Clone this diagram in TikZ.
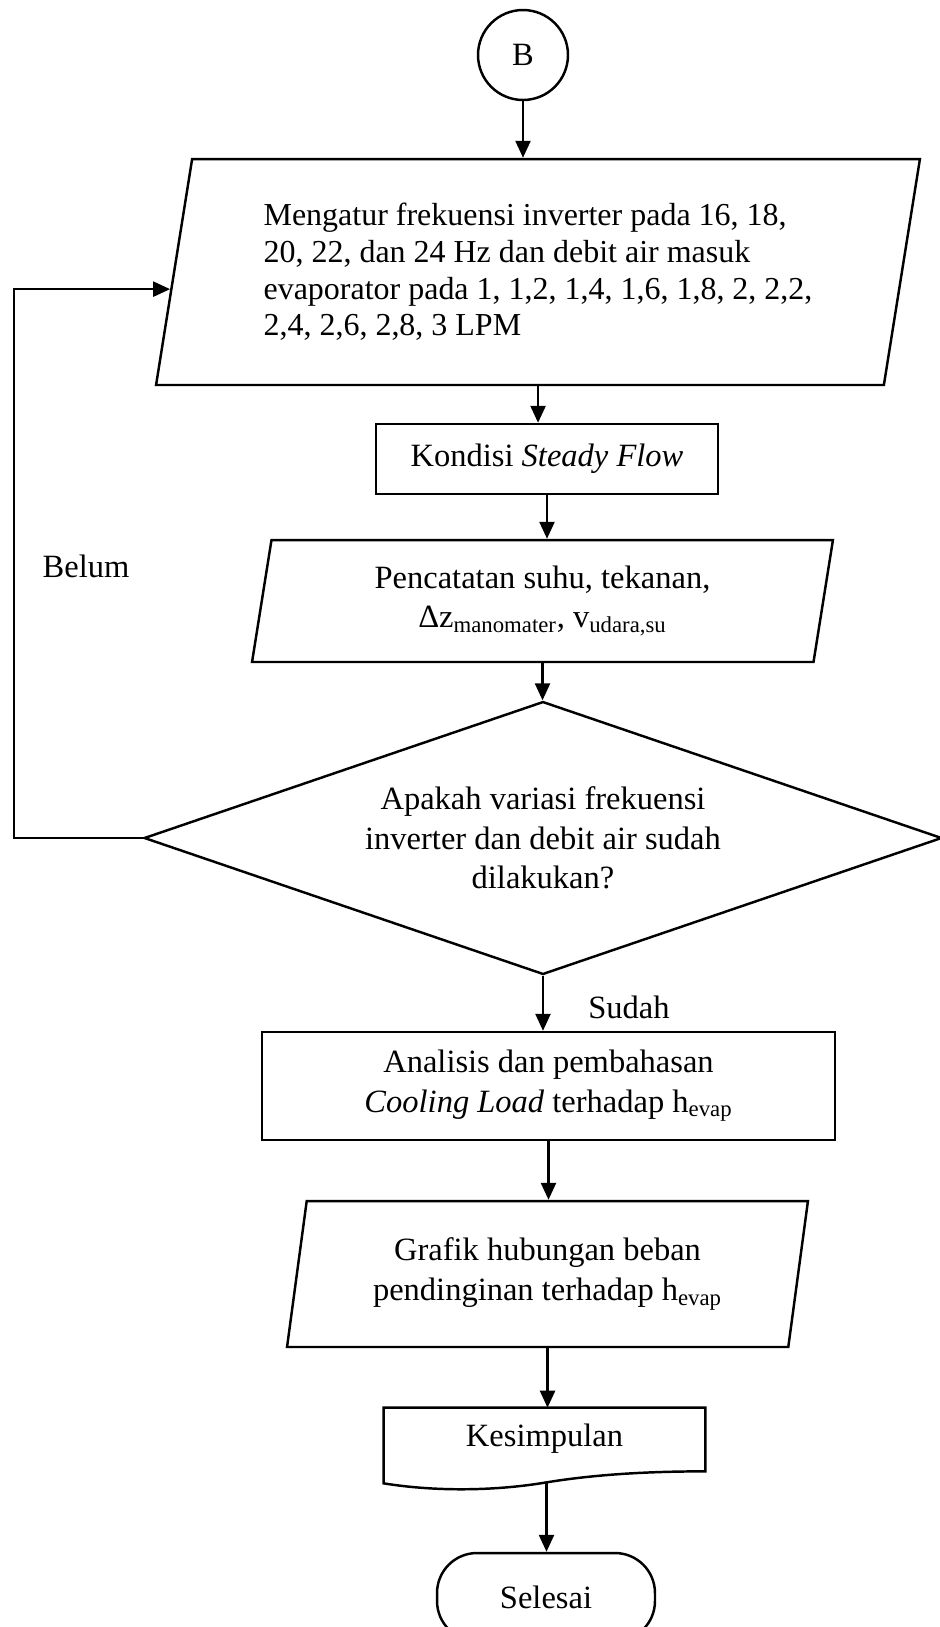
\documentclass[tikz,border=0pt]{standalone}
\usepackage{fontspec}
\setmainfont{Liberation Serif}
\usetikzlibrary{arrows.meta,calc,shapes.geometric}

\tikzset{
  line/.style={line width=1.4pt},
  arr/.style={line, -{Triangle[length=0.34cm,width=0.3cm]}},
  io/.style={line, draw, trapezium, trapezium left angle=76, trapezium right angle=104,
    trapezium stretches body, align=center, inner sep=2pt},
  proc/.style={line, draw, rectangle, align=center},
  cond/.style={line, draw, diamond, aspect=2.9, align=center, inner sep=1pt},
}

\begin{document}
\begin{tikzpicture}[x=0.02cm, y=-0.02cm, font=\fontsize{18.5}{22.5}\selectfont]
    \useasboundingbox (0,0) rectangle (940,1627);
    % Start connector
    \node [line, draw, circle, minimum size=1.8cm, inner sep=0pt] (B) at (523,55) {B};
    % Inputs and steps
    \node [io, minimum width=15.28cm, minimum height=4.52cm, align=left,
        font=\fontsize{18.2}{20.9}\selectfont] (P1) at (538,272)
        {Mengatur frekuensi inverter pada 16, 18,\\ 20, 22, dan 24 Hz dan debit air masuk\\
         evaporator pada 1, 1,2, 1,4, 1,6, 1,8, 2, 2,2,\\ 2,4, 2,6, 2,8, 3 LPM};
    \node [proc, minimum width=6.84cm, minimum height=1.4cm] (K) at (547,459) {Kondisi \textit{Steady Flow}};
    \node [io, minimum width=11.62cm, minimum height=2.44cm] (P2) at (542.5,601)
        {Pencatatan suhu, tekanan,\\ Δz\textsubscript{manomater}, v\textsubscript{udara,su}};
    \node [cond, minimum width=15.96cm, minimum height=5.46cm] (D) at (543,838)
        {Apakah variasi frekuensi\\ inverter dan debit air sudah\\ dilakukan?};
    \node [proc, minimum width=11.46cm, minimum height=2.16cm] (A) at (548.5,1086)
        {Analisis dan pembahasan\\ \textit{Cooling Load} terhadap h\textsubscript{evap}};
    \node [io, minimum width=10.42cm, minimum height=2.92cm] (P3) at (547.5,1274)
        {Grafik hubungan beban\\ pendinginan terhadap h\textsubscript{evap}};
    % Document
    \node [minimum width=6.42cm, minimum height=1.24cm] (Kes) at (544.5,1439) {Kesimpulan};
    \draw [line] (Kes.north west) -- (Kes.north east) -- ($(Kes.south east)+(0,1)$)
        .. controls +(-65,0) and +(43,-7) .. ($(Kes.south)+(2,12)$) coordinate (Kes-out)
        .. controls +(-47,8) and +(56,9) .. ($(Kes.south west)+(0,13)$) -- cycle;
    % End
    \node [proc, rounded corners=0.8cm, minimum width=4.36cm, minimum height=1.76cm] (S) at (546,1597) {Selesai};
    % Labels
    \node (belum) at (86,566) {Belum};
    \node (sudah) at (629,1007) {Sudah};
    % Arrows
    \draw [arr] (B) -- (B |- P1.north);
    \draw [arr] (P1.south) -- (P1.south |- K.north);
    \draw [arr] (K.south) -- (K.south |- P2.north);
    \draw [arr] (P2.south) -- (P2.south |- D.north);
    \draw [arr] (D.south) -- (D.south |- A.north);
    \draw [arr] (A.south) -- (A.south |- P3.north);
    \draw [arr] (P3.south) -- (P3.south |- Kes.north);
    \draw [arr] (Kes-out) -- (Kes-out |- S.north);
    % Loop back
    \path (P1.bottom left corner) -- (P1.top left corner) coordinate[pos=0.425] (P1-in);
    \draw [arr] (D.west) -- ++(-129,0) |- (P1-in);
\end{tikzpicture}
\end{document}
